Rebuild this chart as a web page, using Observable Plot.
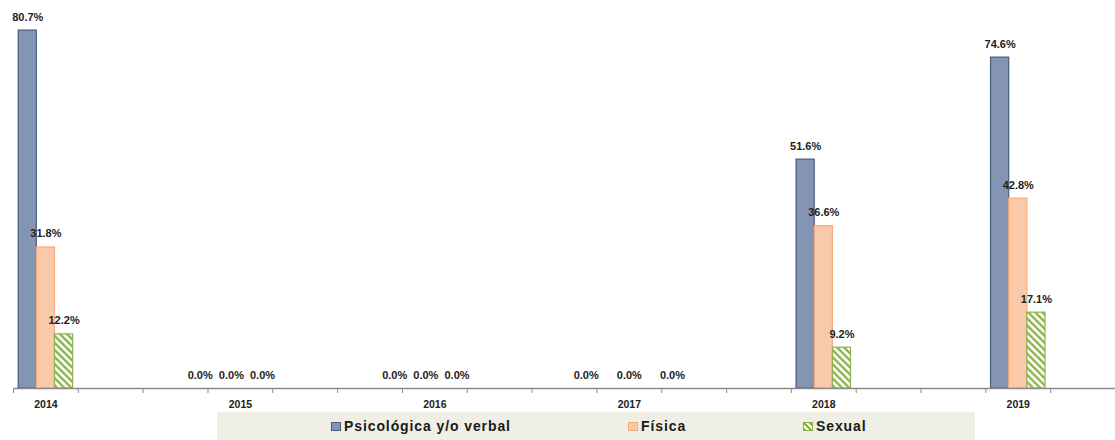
<!DOCTYPE html>
<html>
<head>
<meta charset="utf-8">
<script src="https://cdn.jsdelivr.net/npm/d3@7"></script>
<script src="https://cdn.jsdelivr.net/npm/@observablehq/plot@0.6"></script>
<style>
  html, body { margin: 0; padding: 0; background: #fff; }
  #wrap { position: relative; width: 1115px; height: 440px; font-family: "Liberation Sans", Arial, sans-serif; }
  #legend { position: absolute; left: 217px; top: 412px; width: 758px; height: 28px; background: #EFEFE5; }
  .item { position: absolute; top: 0; height: 28px; display: flex; align-items: center; font-size: 14px; font-weight: bold; letter-spacing: 0.9px; color: #1a1a1a; }
  .sw { width: 10px; height: 9px; margin-right: 3px; box-sizing: border-box; }
</style>
</head>
<body>
<div id="wrap"></div>
<script>
const years = ["2014", "2015", "2016", "2017", "2018", "2019"];
const seriesNames = ["Psicológica y/o verbal", "Física", "Sexual"];
const psicologica = [80.7, 0.0, 0.0, 0.0, 51.6, 74.6];
const fisica = [31.8, 0.0, 0.0, 0.0, 36.6, 42.8];
const sexual = [12.2, 0.0, 0.0, 0.0, 9.2, 17.1];
const tickPositions = d3.range(0, 18);

const seriesValues = [psicologica, fisica, sexual];
const fills = ["#8395B2", "#F9C9A9", "url(#hatch)"];
const strokes = ["#4A5C7E", "#F6AA7C", "#8CB34B"];
const offsets = [-0.28, 0, 0.28];
const half = 0.14;

const rows = [];
years.forEach((y, i) => {
  seriesValues.forEach((vals, s) => {
    rows.push({year: y, i, s, series: seriesNames[s], value: vals[i], c: 0.5 + 3 * i + offsets[s]});
  });
});

// zero-valued labels: 2017 spread apart, 2015/2016 packed tightly (as in the source chart)
const labelDx = d => {
  if (d.value !== 0) return 0;
  const spread = d.year === "2017" ? 25 : 13;
  const shift = d.year === "2017" ? 0 : -9;
  return (d.s - 1) * spread + shift;
};

const defs = () => {
  const g = d3.create("svg:defs");
  const p = g.append("pattern")
    .attr("id", "hatch")
    .attr("patternUnits", "userSpaceOnUse")
    .attr("width", 5).attr("height", 5)
    .attr("patternTransform", "rotate(-45)");
  p.append("rect").attr("width", 5).attr("height", 5).attr("fill", "#fff");
  p.append("rect").attr("width", 2.4).attr("height", 5).attr("fill", "#8CB34B");
  return g.node();
};

const barMarks = [0, 1, 2].map(s => Plot.rectY(rows.filter(d => d.s === s), {
  x1: d => d.c - half,
  x2: d => d.c + half,
  y1: 0,
  y2: "value",
  fill: fills[s],
  stroke: strokes[s],
  strokeWidth: 1.2
}));

const chart = Plot.plot({
  width: 1115,
  height: 412,
  marginLeft: 13,
  marginRight: 0,
  marginTop: 11,
  marginBottom: 24,
  style: {fontFamily: "'Liberation Sans', Arial, sans-serif", background: "#fff", overflow: "visible"},
  x: {type: "linear", domain: [0, 17]},
  y: {domain: [0, 85], axis: null},
  marks: [
    defs,
    ...barMarks,
    Plot.ruleY([0], {stroke: "#8A8A8A", strokeWidth: 1.3}),
    Plot.axisX(tickPositions, {tickSize: 5, tickFormat: () => "", stroke: "#8A8A8A", label: null}),
    Plot.text(years, {
      x: (d, i) => 0.5 + 3 * i,
      frameAnchor: "bottom",
      dy: 19,
      text: d => d,
      fontSize: 10.5,
      fontWeight: "bold",
      fill: "#222",
      letterSpacing: "1px"
    }),
    ...rows.map(d => Plot.text([d], {
      x: "c",
      y: "value",
      text: r => r.value.toFixed(1) + "%",
      lineAnchor: "bottom",
      dy: -10,
      dx: labelDx(d),
      fontSize: 11,
      fontWeight: "bold",
      fill: "#222",
      letterSpacing: "0.7px"
    }))
  ]
});

const wrap = document.getElementById("wrap");
wrap.appendChild(chart);

const legend = document.createElement("div");
legend.id = "legend";
const legendItems = [
  {left: 114, bg: "#8395B2", border: "#4A5C7E"},
  {left: 411, bg: "#F9C9A9", border: "#F6AA7C"},
  {left: 586, bg: "repeating-linear-gradient(45deg, #8CB34B 0 2px, #fff 2px 4px)", border: "#8CB34B"}
];
legendItems.forEach((it, k) => {
  const item = document.createElement("div");
  item.className = "item";
  item.style.left = it.left + "px";
  const sw = document.createElement("div");
  sw.className = "sw";
  sw.style.background = it.bg;
  sw.style.border = "1px solid " + it.border;
  const t = document.createElement("span");
  t.textContent = seriesNames[k];
  item.appendChild(sw);
  item.appendChild(t);
  legend.appendChild(item);
});
wrap.appendChild(legend);
</script>
</body>
</html>
